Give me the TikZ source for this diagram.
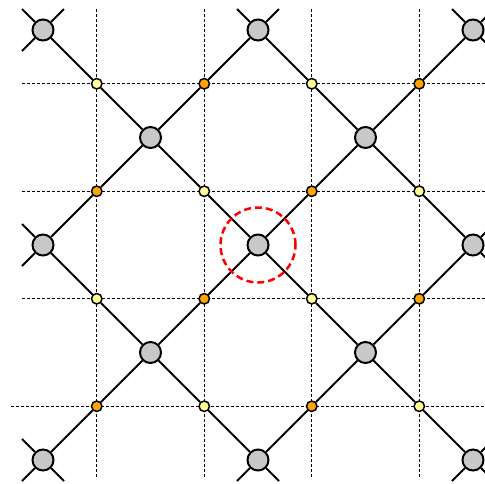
\documentclass[tikz,border=0pt]{standalone}
\definecolor{biggray}{RGB}{200,200,200}
\definecolor{smyellow}{RGB}{255,255,150}
\definecolor{smorange}{RGB}{255,165,0}
\begin{document}
\begin{tikzpicture}[x=1pt,y=-1pt,
  bigsite/.style={circle,draw,line width=2pt,fill=biggray,minimum size=21pt,inner sep=0pt},
  smallsite/.style={circle,draw,line width=1.5pt,minimum size=10.5pt,inner sep=0pt},
  yel/.style={smallsite,fill=smyellow},
  org/.style={smallsite,fill=smorange},
  bond/.style={line width=2pt,black},
  gridline/.style={line width=1.1pt,dash pattern=on 2.5pt off 2.5pt},
  ring/.style={circle,draw=red,line width=2.5pt,dash pattern=on 7pt off 4pt,minimum size=75pt,inner sep=0pt}]
\useasboundingbox (0,0) rectangle (485,483);
\clip (0,0) rectangle (485,483);
% dotted grid
\foreach \a in {1,3,5,7}
  \draw[gridline] ({43+53.75*\a},9) -- ({43+53.75*\a},479);
\foreach \b in {1,3,5}
  \draw[gridline] (22,{30+53.75*\b}) -- (485,{30+53.75*\b});
\draw[gridline] (11,{30+53.75*7}) -- (485,{30+53.75*7});
% big sites
\foreach \a/\b in {0/0,4/0,8/0,2/2,6/2,0/4,4/4,8/4,2/6,6/6,0/8,4/8,8/8}
  \node[bigsite] (B\a\b) at ({43+53.75*\a},{30+53.75*\b}) {};
% small sites
\foreach \a/\b in {1/1,5/1,3/3,7/3,1/5,5/5,3/7,7/7}
  \node[yel] (S\a\b) at ({43+53.75*\a},{30+53.75*\b}) {};
\foreach \a/\b in {3/1,7/1,1/3,5/3,3/5,7/5,1/7,5/7}
  \node[org] (S\a\b) at ({43+53.75*\a},{30+53.75*\b}) {};
% bonds
\foreach \s/\p/\q in {S11/B00/B22,S51/B40/B62,S33/B22/B44,S73/B62/B84,
                      S15/B04/B26,S55/B44/B66,S37/B26/B48,S77/B66/B88,
                      S31/B22/B40,S71/B62/B80,S13/B04/B22,S53/B44/B62,
                      S35/B26/B44,S75/B66/B84,S17/B08/B26,S57/B48/B66}
{
  \draw[bond] (\p) -- (\s);
  \draw[bond] (\s) -- (\q);
}
% stubs to the edge
\foreach \n/\dx/\dy [count=\k] in {B00/-1/-1,B00/1/-1,B00/-1/1,
                      B40/-1/-1,B40/1/-1,
                      B80/-1/-1,B80/1/-1,B80/1/1,
                      B04/-1/-1,B04/-1/1,
                      B84/1/-1,B84/1/1,
                      B08/-1/-1,B08/-1/1,B08/1/1,
                      B48/-1/1,B48/1/1,
                      B88/1/-1,B88/-1/1,B88/1/1}
{
  \coordinate (T\k) at ([shift={(21*\dx,21*\dy)}]\n.center);
  \draw[bond] (\n) -- (T\k);
}
% highlighted site
\node[ring] (R) at (B44) {};
\end{tikzpicture}
\end{document}
